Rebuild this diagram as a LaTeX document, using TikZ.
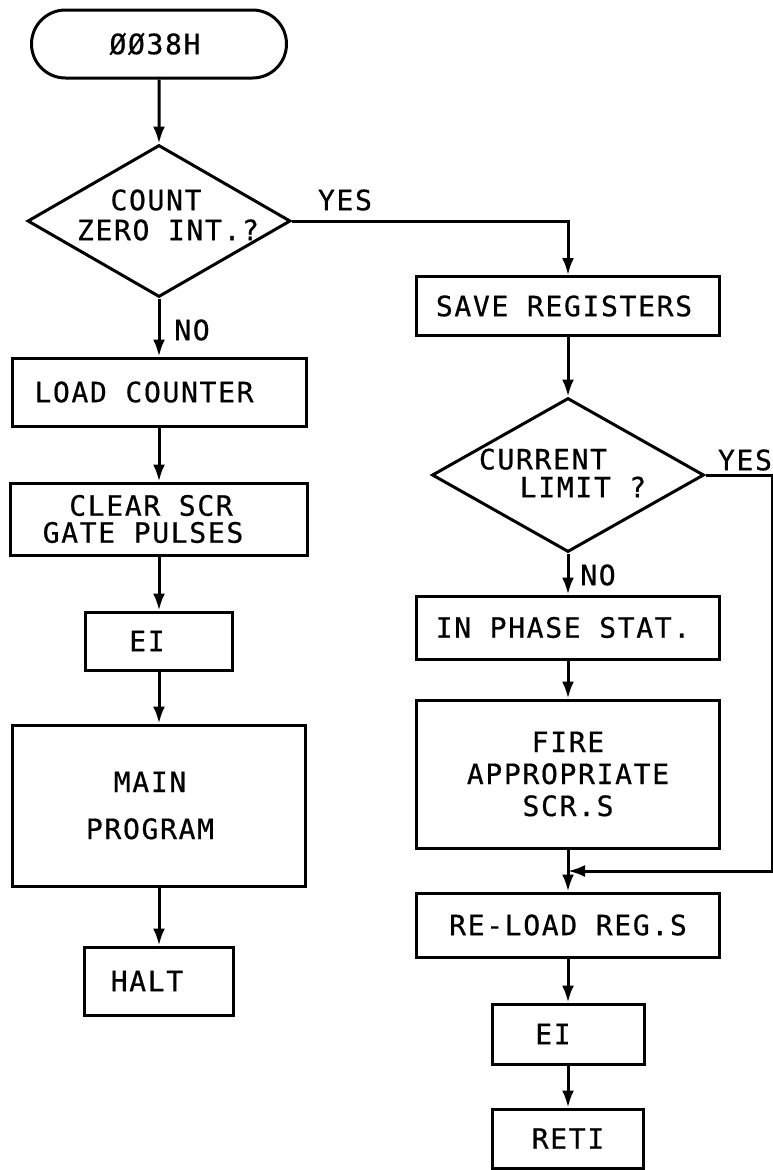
\documentclass[tikz,border=0pt]{standalone}
\usepackage{fontspec}
\usetikzlibrary{shapes.geometric,shapes.misc,arrows.meta}
\newfontfamily\lett[LetterSpace=6,FakeBold=0.6]{DejaVu Sans Mono}
\begin{document}
\begin{tikzpicture}[x=1pt,y=-1pt,
  lw/.style={line width=3pt},
  box/.style={draw,lw,rectangle,inner sep=0pt,align=center,font=\lett\fontsize{28}{33}\selectfont},
  term/.style={draw,lw,rounded rectangle,inner sep=0pt,font=\lett\fontsize{28}{33}\selectfont},
  dia/.style={draw,lw,diamond,inner sep=0pt},
  txt/.style={inner sep=0pt,align=center,font=\lett\fontsize{28}{33}\selectfont},
  arr/.style={lw,-{Latex[length=17pt,width=12pt]}},
  ln/.style={lw}]
\useasboundingbox (0,0) rectangle (773,1170);
% left column
\node[term,minimum width=255pt,minimum height=68pt] (start) at (159,44) {ØØ38H\hspace*{8pt}};
\node[dia,minimum width=263pt,minimum height=152pt] (d1) at (159,221) {};
\node[txt] (d1t) at (168,215) {COUNT\hspace*{24pt}\\[-3pt]ZERO INT.?};
\node[box,minimum width=294pt,minimum height=68pt] (load) at (159,392) {LOAD COUNTER\hspace*{30pt}};
\node[box,minimum width=297pt,minimum height=72pt] (clear) at (159,519) {CLEAR SCR\hspace*{16pt}\\[-6pt]GATE PULSES\hspace*{32pt}};
\node[box,minimum width=147pt,minimum height=58pt] (ei1) at (159,641) {EI\hspace*{24pt}};
\node[box,minimum width=293pt,minimum height=161pt] (main) at (159,805.5) {MAIN\hspace*{18pt}\\[14pt]PROGRAM\hspace*{18pt}};
\node[box,minimum width=149pt,minimum height=68pt] (halt) at (159,981) {HALT\hspace*{24pt}};
% right column
\node[box,minimum width=303pt,minimum height=59pt] (save) at (568,306) {SAVE REGISTERS\hspace*{8pt}};
\node[dia,minimum width=272pt,minimum height=154pt] (d2) at (568,475) {};
\node[txt] (d2t) at (563,473) {CURRENT\hspace*{40pt}\\[-5pt]\hspace*{40pt}LIMIT ?};
\node[box,minimum width=303pt,minimum height=63pt] (phase) at (568,627.5) {IN PHASE STAT.\hspace*{10pt}};
\node[box,minimum width=303pt,minimum height=148pt] (fire) at (568,774) {FIRE\\[-1pt]APPROPRIATE\\[-1pt]SCR.S};
\node[box,minimum width=303pt,minimum height=64pt] (reload) at (568,925) {RE-LOAD REG.S};
\node[box,minimum width=152pt,minimum height=60pt] (ei2) at (568,1034) {EI\hspace*{30pt}};
\node[box,minimum width=151pt,minimum height=59pt] (reti) at (568,1138.5) {RETI};
% labels
\node[txt] (yes1) at (345,200) {YES};
\node[txt] (no1) at (192,330) {NO};
\node[txt] (yes2) at (745,460) {YES};
\node[txt] (no2) at (598,575) {NO};
% connectors
\draw[arr] (start) -- (d1);
\draw[arr] (d1.south) -- (load.north);
\draw[arr] (load) -- (clear);
\draw[arr] (clear) -- (ei1);
\draw[arr] (ei1) -- (main);
\draw[arr] (main) -- (halt);
\draw[arr] (d1.east) -| (save.north);
\draw[arr] (save) -- (d2);
\draw[arr] (d2.south) -- (phase.north);
\draw[arr] (phase) -- (fire);
\draw[arr] (fire) -- (reload);
\draw[arr] (reload) -- (ei2);
\draw[arr] (ei2) -- (reti);
\coordinate (c1) at (772,475);
\coordinate (c2) at (772,871);
\coordinate (j) at (568,871);
\draw[arr,line join=miter] (d2.east) -- (c1) -- (c2) -- (j);
\end{tikzpicture}
\end{document}
